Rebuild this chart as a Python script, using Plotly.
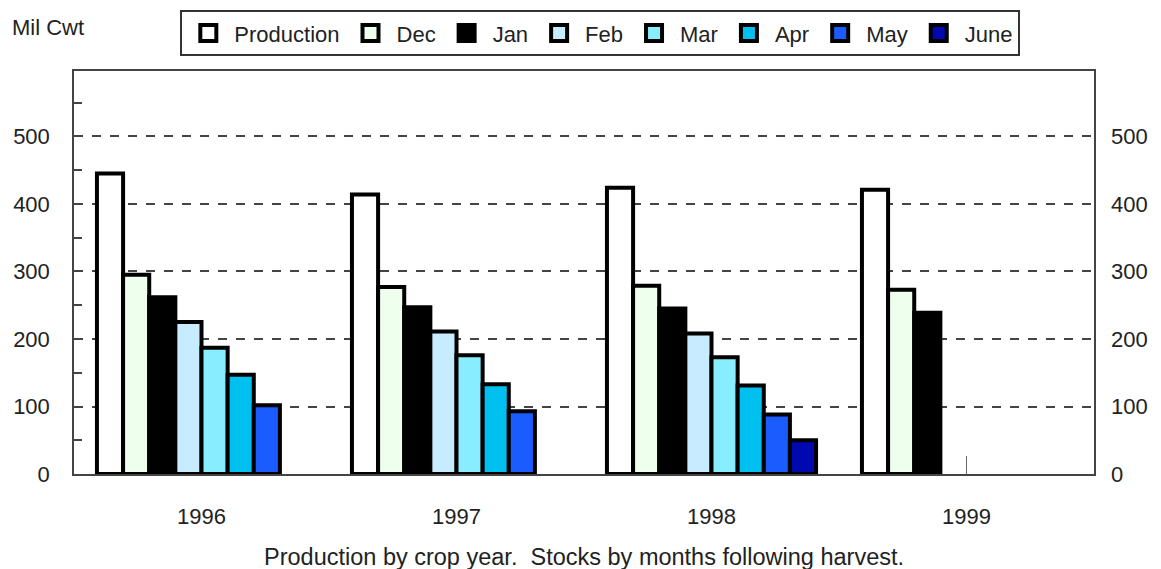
import plotly.graph_objects as go

years = ["1996", "1997", "1998", "1999"]
series_names = ["Production", "Dec", "Jan", "Feb", "Mar", "Apr", "May", "June"]
production = [445, 414, 424, 421]
dec = [295, 277, 279, 273]
jan = [262, 247, 245, 239]
feb = [225, 211, 208, None]
mar = [187, 176, 173, None]
apr = [147, 133, 131, None]
may = [102, 93, 88, None]
june = [None, None, 50, None]
series_values = [production, dec, jan, feb, mar, apr, may, june]
colors = ["#FFFFFF", "#EEFFEE", "#000000", "#C8ECFF", "#88EEFF", "#00C0F0", "#1A5CFF", "#0008B0"]

y_ticks = [0, 100, 200, 300, 400, 500]
y_minor = [50, 150, 250, 350, 450, 550]

FONT = "Arial, Liberation Sans, sans-serif"
TXT = "#222222"

fig = go.Figure()
for name, vals, col in zip(series_names, series_values, colors):
    fig.add_trace(go.Bar(
        x=years, y=vals, name=name, showlegend=False,
        marker=dict(color=col, line=dict(color="#000000", width=4)),
    ))
# legend entries (large square swatches with thick outlines)
for name, col in zip(series_names, colors):
    fig.add_trace(go.Scatter(
        x=[None], y=[None], name=name, mode="markers",
        marker=dict(symbol="square", size=18, color=col, line=dict(color="#000000", width=4)),
    ))

fig.update_layout(
    width=1161, height=569,
    margin=dict(l=66, r=75, t=63, b=103, autoexpand=False),
    paper_bgcolor="white", plot_bgcolor="white",
    barmode="group", bargap=0.18, bargroupgap=0,
    font=dict(family=FONT, size=21, color=TXT),
    showlegend=True,
    legend=dict(
        orientation="h", x=0.516, xanchor="center", y=1.151, yanchor="top",
        bordercolor="#333333", borderwidth=2, bgcolor="white",
        font=dict(family=FONT, size=22, color=TXT),
        itemwidth=42,
    ),
    xaxis=dict(
        type="category", showline=True, linecolor="#444444", linewidth=1.5, mirror=True,
        ticks="inside", ticklen=18, tickcolor="#666666", tickwidth=1,
        layer="below traces", showgrid=False, ticklabelstandoff=22, automargin=False,
        tickfont=dict(family=FONT, size=22, color=TXT),
    ),
    yaxis=dict(
        range=[0, 597], tickvals=y_ticks, ticks="", showline=True, linecolor="#444444",
        linewidth=1.5, mirror=True, showgrid=True, gridcolor="#444444", griddash="dash",
        gridwidth=1.5, zeroline=False, ticklabelstandoff=18, automargin=False,
        minor=dict(tickvals=y_minor, ticks="inside", ticklen=8, tickcolor="#444444", tickwidth=1.5, showgrid=False),
        tickfont=dict(family=FONT, size=22, color=TXT),
    ),
    yaxis2=dict(
        range=[0, 597], tickvals=y_ticks, overlaying="y", side="right", anchor="x",
        showgrid=False, zeroline=False, ticks="", showline=False, ticklabelstandoff=16,
        automargin=False, tickfont=dict(family=FONT, size=22, color=TXT),
    ),
    annotations=[
        dict(text="Mil Cwt", xref="paper", yref="paper", x=-0.0627, y=1.109,
             xanchor="left", yanchor="middle", showarrow=False,
             font=dict(family=FONT, size=22, color=TXT)),
        dict(text="Production by crop year.  Stocks by months following harvest.",
             xref="paper", yref="paper", x=0.5, y=-0.206, xanchor="center", yanchor="middle",
             showarrow=False, font=dict(family=FONT, size=23.5, color=TXT)),
    ],
)
fig.add_trace(go.Scatter(x=years, y=[0, 0, 0, 0], yaxis="y2", mode="markers",
                         marker=dict(opacity=0), showlegend=False, hoverinfo="skip"))

fig.write_html("out.html")
